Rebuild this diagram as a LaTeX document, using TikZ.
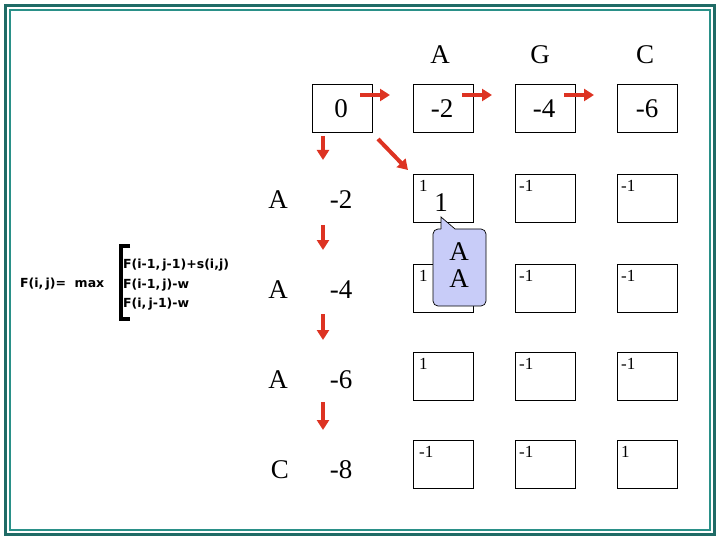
\documentclass[tikz,border=0pt]{standalone}
\usepackage{fontspec}
\setmainfont{Liberation Serif}
\newfontfamily\fsans{DejaVu Sans}
\usetikzlibrary{arrows.meta}
\definecolor{tealdark}{HTML}{1F6B66}
\definecolor{tealmid}{HTML}{2A9088}
\definecolor{bubble}{HTML}{C8CCF8}
\definecolor{redar}{HTML}{DD3322}
\begin{document}
\begin{tikzpicture}[x=1pt,y=-1pt,
  cell/.style={draw,line width=1pt,minimum width=60pt,minimum height=48pt,inner sep=0pt,anchor=north west},
  big/.style={font=\fontsize{27}{30}\selectfont},
  small/.style={font=\fontsize{17}{19}\selectfont,anchor=north west,inner sep=0pt},
  fsty/.style={font=\fsans\bfseries\fontsize{12.5}{14}\selectfont,anchor=west,inner sep=0pt},
  ar/.style={-{Triangle[length=10pt,width=12pt]},redar,line width=4pt}]
\useasboundingbox (0,0) rectangle (720,540);
\draw[tealdark,line width=3.5pt] (5.5,5.5) rectangle (714.5,534.5);
\draw[tealmid,line width=2pt] (10,10) rectangle (710,530);
% headers
\node[big] (hA) at (440,55) {A};
\node[big] (hG) at (540,55) {G};
\node[big] (hC) at (645,55) {C};
\node[big] (rA1) at (278,200) {A};
\node[big] (rA2) at (278,290) {A};
\node[big] (rA3) at (278,380) {A};
\node[big] (rC) at (280,470) {C};
% row 0
\node[cell] (c00) at (312,84) {};
\node[cell] (b01) at (413,84) {};
\node[cell] (b02) at (515,84) {};
\node[cell] (b03) at (617,84) {};
\node[big] at (341,109) {0};
\node[big] (v01) at (442,109) {-2};
\node[big] (v02) at (544,109) {-4};
\node[big] (v03) at (647,109) {-6};
% col0 values
\node[big] (v10) at (341,200) {-2};
\node[big] (v20) at (341,290) {-4};
\node[big] (v30) at (341,380) {-6};
\node[big] (v40) at (341,470) {-8};
% inner cells
\foreach \r/\y in {1/174,2/264,3/352,4/440}{
  \foreach \c/\x in {1/413,2/515,3/617}{
    \node[cell] (b\r\c) at (\x,\y) {};
  }}
\node[small] at (419,180) {1};
\node[big] at (441,203) {1};
\node[small] at (519,180) {-1};
\node[small] at (621,180) {-1};
\node[small] at (419,270) {1};
\node[small] at (519,270) {-1};
\node[small] at (621,270) {-1};
\node[small] at (419,358) {1};
\node[small] at (519,358) {-1};
\node[small] at (621,358) {-1};
\node[small] at (419,446) {-1};
\node[small] at (519,446) {-1};
\node[small] at (621,446) {1};
% callout
\coordinate (tip) at (441,217);
\fill[bubble,rounded corners=5pt] (433,229) rectangle (486,306);
\fill[bubble] (tip) -- (455,230) -- (441,230) -- cycle;
\fill[bubble] (434,230) rectangle (455,240);
\draw[line width=0.7pt,rounded corners=5pt] (441,229) -- (433,229) -- (433,306) -- (486,306) -- (486,229) -- (455,229);
\draw[line width=0.7pt] (441,229) -- (tip) -- (455,229);
\node[big] (ca1) at (459,252) {A};
\node[big] (ca2) at (459,279) {A};
% arrows
\draw[ar] (360,95) -- (390,95);
\draw[ar] (462,95) -- (492,95);
\draw[ar] (564,95) -- (594,95);
\draw[ar] (323,136) -- (323,160);
\draw[ar] (323,225) -- (323,250);
\draw[ar] (323,314) -- (323,340);
\draw[ar] (323,402) -- (323,430);
\draw[ar] (378,139) -- (408,170);
% formula
\node[fsty] (fl) at (20,284) {F(i,\,j)=\ \ max};
\draw[line width=3.5pt] (130,246) -- (121,246) -- (121,319) -- (130,319);
\node[fsty] (f1) at (123,265) {F(i-1,\,j-1)+s(i,j)};
\node[fsty] (f2) at (123,285) {F(i-1,\,j)-w};
\node[fsty] (f3) at (123,304) {F(i,\,j-1)-w};
\end{tikzpicture}
\end{document}
